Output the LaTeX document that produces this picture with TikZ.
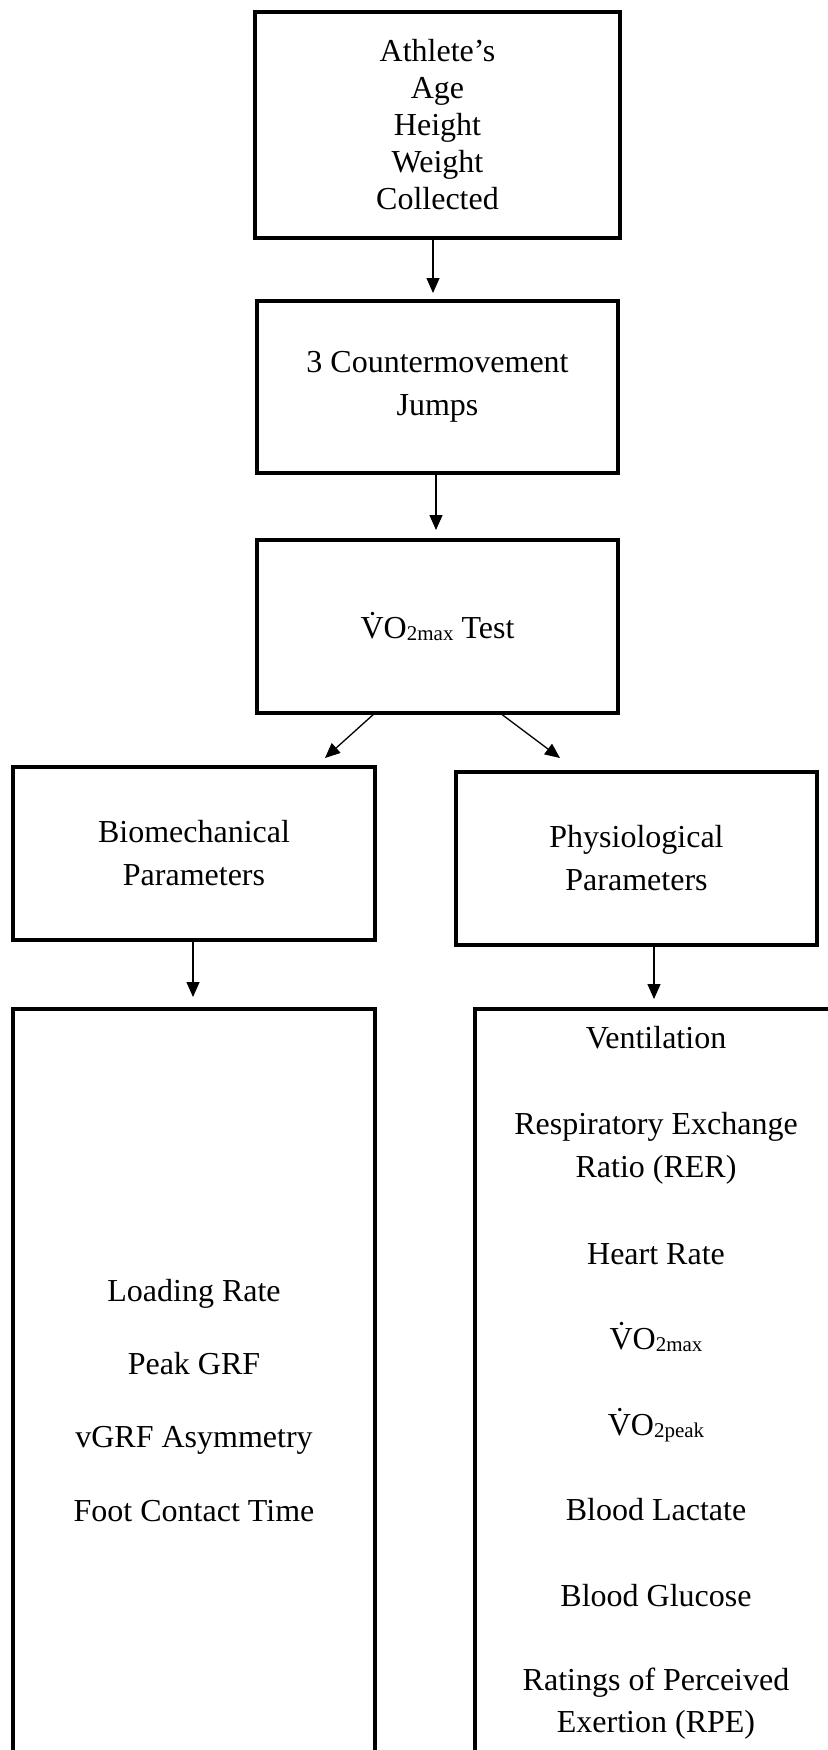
\documentclass[tikz,border=0pt]{standalone}
\usepackage{fontspec}
\setmainfont{Liberation Serif}
\usetikzlibrary{arrows.meta}
\newcommand\vdotsub[1]{\.{V}O{\fontsize{21}{21}\selectfont\raisebox{-2pt}{#1}}}
\begin{document}
\begin{tikzpicture}[x=1pt,y=-1pt,
  box/.style={draw, line width=4pt, rectangle, inner sep=0pt, align=center,
    font=\fontsize{32}{43}\selectfont},
  arr/.style={-{Triangle[length=15pt,width=13pt]}, line width=1.3pt},
  item/.style={anchor=base, inner sep=0pt, font=\fontsize{32}{43}\selectfont}]
\useasboundingbox (0,0) rectangle (827,1750);
\fill[white] (0,0) rectangle (827,1750);

\node[box, minimum width=365pt, minimum height=226pt, font=\fontsize{32}{37}\selectfont]
  (a) at (437.5,125) {Athlete’s\\Age\\Height\\Weight\\Collected};
\node[box, minimum width=361pt, minimum height=172pt] (b) at (437.5,387) {3 Countermovement\\Jumps};
\node[box, minimum width=361pt, minimum height=173pt] (c) at (437.5,626.5) {\vdotsub{2max} Test};
\node[box, minimum width=362pt, minimum height=173pt] (d) at (194,853.5) {Biomechanical\\Parameters};
\node[box, minimum width=361pt, minimum height=173pt] (e) at (636.5,858.5) {Physiological\\Parameters};
\node[box, anchor=north, minimum width=362pt, minimum height=800pt] (f) at (194,1007) {};
\node[box, anchor=north, minimum width=362pt, minimum height=800pt] (g) at (656,1007) {};

% left list
\node[item] (l1) at (194,1301) {Loading Rate};
\node[item] (l2) at (194,1374) {Peak GRF};
\node[item] (l3) at (194,1447) {vGRF Asymmetry};
\node[item] (l4) at (194,1521) {Foot Contact Time};

% right list
\node[item] (r1) at (656,1048) {Ventilation};
\node[item] (r2) at (656,1134) {Respiratory Exchange};
\node[item] (r3) at (656,1177) {Ratio (RER)};
\node[item] (r4) at (656,1264) {Heart Rate};
\node[item] (r5) at (656,1349) {\vdotsub{2max}};
\node[item] (r6) at (656,1435) {\vdotsub{2peak}};
\node[item] (r7) at (656,1520) {Blood Lactate};
\node[item] (r8) at (656,1606) {Blood Glucose};
\node[item] (r9) at (656,1690) {Ratings of Perceived};
\node[item] (r10) at (656,1732) {Exertion (RPE)};

% arrows
\coordinate (t1) at (433,293);
\coordinate (t2) at (436,530);
\coordinate (s3) at (375,713);
\coordinate (t3) at (325,758);
\coordinate (s4) at (500,713);
\coordinate (t4) at (560,758);
\coordinate (t5) at (193,997);
\coordinate (t6) at (654,999);
\draw[arr] (t1 |- a.south) -- (t1);
\draw[arr] (t2 |- b.south) -- (t2);
\draw[arr] (s3) -- (t3);
\draw[arr] (s4) -- (t4);
\draw[arr] (t5 |- d.south) -- (t5);
\draw[arr] (t6 |- e.south) -- (t6);
\end{tikzpicture}
\end{document}
